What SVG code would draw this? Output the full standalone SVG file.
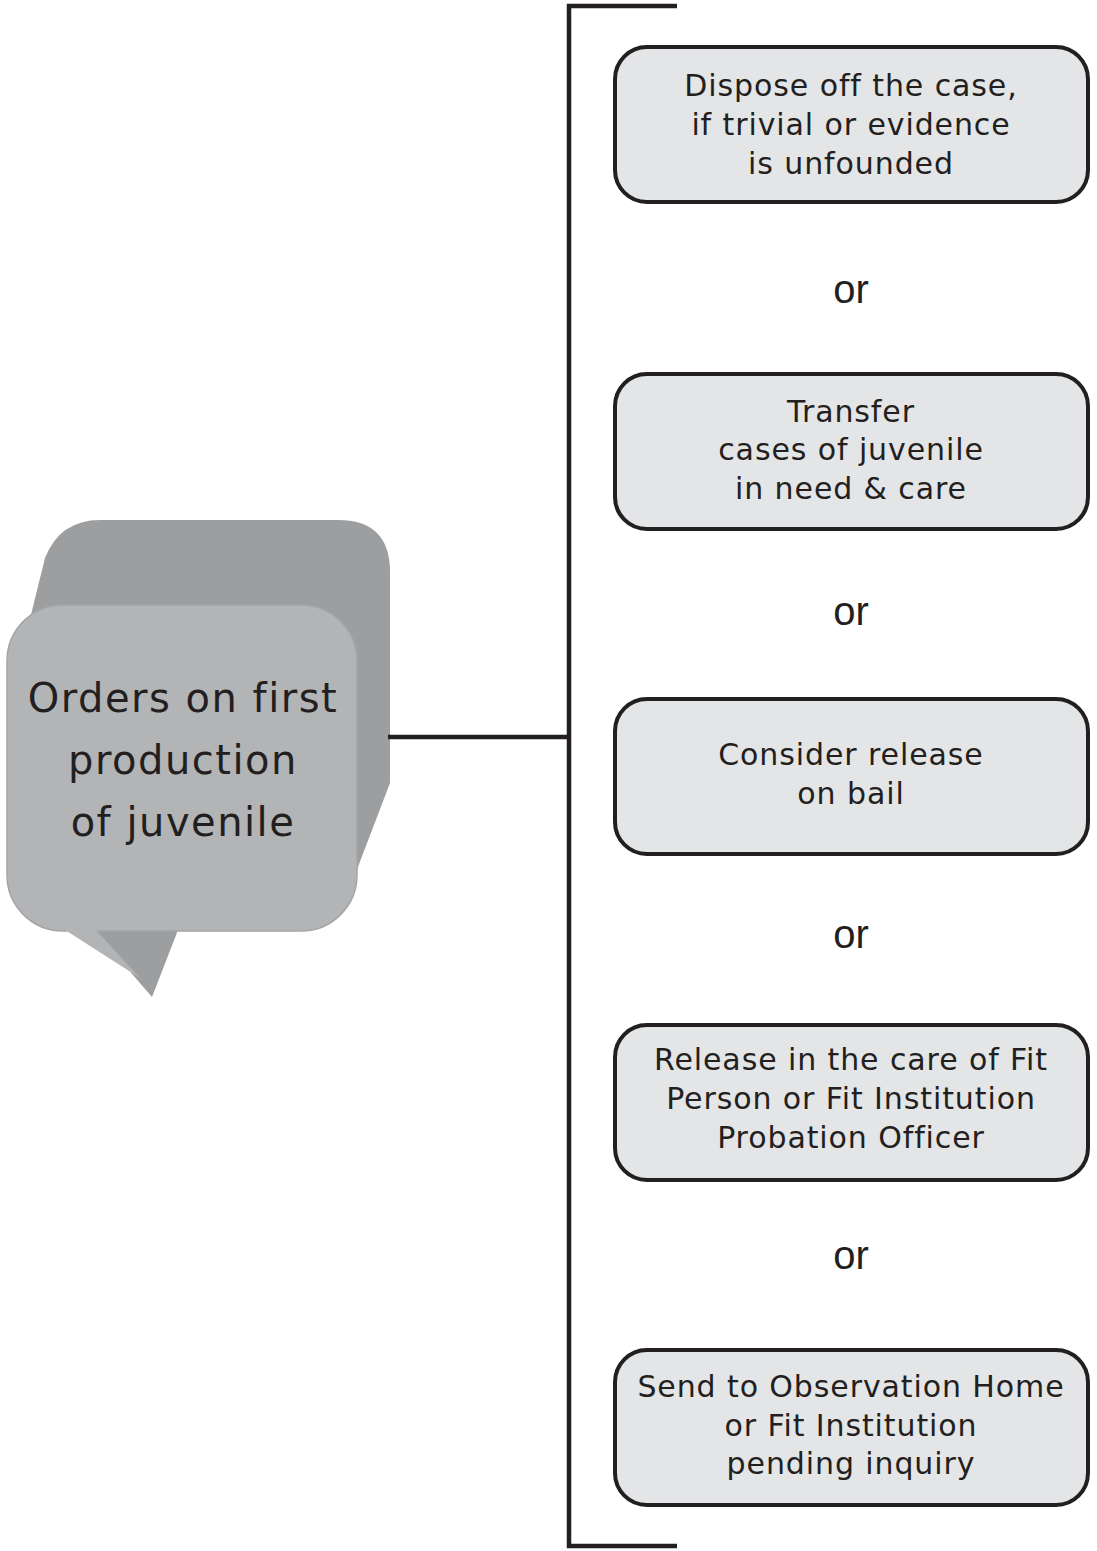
<svg xmlns="http://www.w3.org/2000/svg" width="1097" height="1551" viewBox="0 0 1097 1551">
<style>
.box{fill:#e4e5e6;stroke:#231f20;stroke-width:4}
.bt{font-family:"DejaVu Sans",Verdana,sans-serif;font-size:30px;letter-spacing:0.9px;fill:#231f20;text-anchor:middle}
.or{font-family:"Liberation Sans",Arial,sans-serif;font-size:40px;fill:#231f20;text-anchor:middle}
.ln{fill:none;stroke:#231f20;stroke-width:4.5}
</style>
<rect width="1097" height="1551" fill="#ffffff"/>
<g id="bubble">
<path d="M45 558 Q60 520 100 520 L338 520 Q390 520 390 572 L390 783 L356 872 L300 920 L40 920 L10 700 Z" fill="#9d9ea0"/>
<path d="M94 930 L178 930 L152 997 Z" fill="#9d9ea0"/>
<rect x="7" y="605" width="350" height="326" rx="56" fill="#b3b4b6" stroke="#a4a5a7" stroke-width="1.5"/>
<path d="M62 928 L140 978 L96 930 Z" fill="#b3b4b6"/>
<text font-family="'DejaVu Sans',Verdana,sans-serif" font-size="40" letter-spacing="1.5" fill="#231f20" text-anchor="middle"><tspan x="183" y="712">Orders on first</tspan><tspan x="183" y="774">production</tspan><tspan x="183" y="836">of juvenile</tspan></text>
</g>
<g id="connectors">
<path class="ln" d="M388 737 H568"/>
<path class="ln" d="M677 6 H569 V1546 H677"/>
</g>
<g id="box1">
<rect class="box" x="615" y="47" width="473" height="155" rx="32"/>
<text class="bt"><tspan x="851" y="96">Dispose off the case,</tspan><tspan x="851" y="135">if trivial or evidence</tspan><tspan x="851" y="174">is unfounded</tspan></text>
</g>
<g id="box2">
<rect class="box" x="615" y="374" width="473" height="155" rx="32"/>
<text class="bt"><tspan x="851" y="422">Transfer</tspan><tspan x="851" y="460">cases of juvenile</tspan><tspan x="851" y="499">in need &amp; care</tspan></text>
</g>
<g id="box3">
<rect class="box" x="615" y="699" width="473" height="155" rx="32"/>
<text class="bt"><tspan x="851" y="765">Consider release</tspan><tspan x="851" y="804">on bail</tspan></text>
</g>
<g id="box4">
<rect class="box" x="615" y="1025" width="473" height="155" rx="32"/>
<text class="bt"><tspan x="851" y="1070">Release in the care of Fit</tspan><tspan x="851" y="1109">Person or Fit Institution</tspan><tspan x="851" y="1148">Probation Officer</tspan></text>
</g>
<g id="box5">
<rect class="box" x="615" y="1350" width="473" height="155" rx="32"/>
<text class="bt"><tspan x="851" y="1397">Send to Observation Home</tspan><tspan x="851" y="1436">or Fit Institution</tspan><tspan x="851" y="1474">pending inquiry</tspan></text>
</g>
<g id="labels">
<text class="or" x="851" y="303">or</text>
<text class="or" x="851" y="625">or</text>
<text class="or" x="851" y="948">or</text>
<text class="or" x="851" y="1269">or</text>
</g>
</svg>
